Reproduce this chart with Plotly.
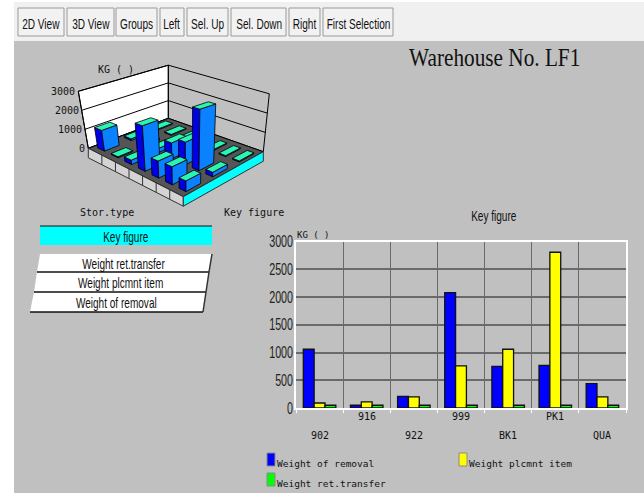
import plotly.graph_objects as go

# ---------- data ----------
categories = ["902", "916", "922", "999", "BK1", "PK1", "QUA"]
weight_removal = [1060, 50, 210, 2080, 750, 770, 440]
weight_plcmnt = [90, 110, 200, 760, 1060, 2810, 200]
weight_transfer = [50, 50, 50, 50, 50, 50, 50]
series_names = ["Weight of removal", "Weight plcmnt item", "Weight ret.transfer"]
y_ticks = [0, 500, 1000, 1500, 2000, 2500, 3000]
ticks_3d = [0, 1000, 2000, 3000]
buttons = ["2D View", "3D View", "Groups", "Left", "Sel. Up", "Sel. Down", "Right", "First Selection"]

# ---------- style / layout constants ----------
W, H = 644, 498
GREY = "#c0c0c0"
NARROW = "Liberation Sans Narrow, Liberation Sans"
SERIF = "Liberation Serif"
MONO = "DejaVu Sans Mono, Liberation Mono, monospace"
BAR_COLORS = ["#0000ff", "#ffff00", "#00ff00"]
BTN_X = [(18, 64), (67, 114), (116, 157), (160, 184), (187, 228), (231, 286), (289, 320), (323, 393)]
# 3D box projection: floor corners in page pixels
C_L, C_F, C_B, C_R = (88.3, 148.3), (183.3, 196.7), (168.3, 118.3), (263.3, 151.7)
K_SCALE = dict(L=19.0, F=25.0, B=17.7, R=19.3)    # pixels per 1000 units
LEAN = dict(L=-10.0, F=0.0, B=0.0, R=6.0)         # sideways drift per 3000 units


def blend(u, v, a, b, c, d):
    return (1 - u) * (1 - v) * a + u * (1 - v) * b + (1 - u) * v * c + u * v * d


def project(u, v, h=0.0):
    x = blend(u, v, C_L[0], C_F[0], C_B[0], C_R[0])
    y = blend(u, v, C_L[1], C_F[1], C_B[1], C_R[1])
    k = blend(u, v, K_SCALE["L"], K_SCALE["F"], K_SCALE["B"], K_SCALE["R"])
    lean = blend(u, v, LEAN["L"], LEAN["F"], LEAN["B"], LEAN["R"])
    return x + lean * h / 3000.0, y - k * h / 1000.0


fig = go.Figure()


def poly(points, fill, line="#000000", width=1, close=True):
    xs = [p[0] for p in points]
    ys = [p[1] for p in points]
    if close:
        xs.append(xs[0])
        ys.append(ys[0])
    fig.add_trace(go.Scatter(
        x=xs, y=ys, xaxis="x", yaxis="y", mode="lines", hoverinfo="skip", showlegend=False,
        fill="toself" if fill else None, fillcolor=fill,
        line=dict(color=line, width=width)))


# ---------- 3D chart ----------
top3 = max(ticks_3d)
poly([project(0, 0), project(0, 1), project(0, 1, top3), project(0, 0, top3)], "#ffffff")
for t in ticks_3d:
    poly([project(0, 0, t), project(0, 1, t), project(1, 1, t)], None, close=False)
for uv in [(0, 0), (0, 1), (1, 1)]:
    poly([project(*uv), project(*uv, top3)], None, close=False)
poly([project(0, 0), project(1, 0), project(1, 1), project(0, 1)], "#555555")
BAND = 9.5
poly([project(0, 0), project(1, 0), (project(1, 0)[0], project(1, 0)[1] + BAND),
      (project(0, 0)[0], project(0, 0)[1] + BAND)], "#d4d4d4", "#333333")
poly([project(1, 0), project(1, 1), (project(1, 1)[0], project(1, 1)[1] + BAND),
      (project(1, 0)[0], project(1, 0)[1] + BAND)], "#00ffff", "#333333")
n = len(categories)
for i in range(1, n):
    p = project(i / n, 0)
    poly([p, (p[0], p[1] + BAND)], None, "#333333", close=False)

rows = [weight_removal, weight_plcmnt, weight_transfer]
DU, DV = 0.25, 0.275
for r in reversed(range(3)):
    for i in range(n):
        value = rows[r][i]
        uc, vc = (i + 0.5) / n, (r + 0.5) / 3
        u0, u1 = uc - DU / n, uc + DU / n
        v0, v1 = vc - DV / 3, vc + DV / 3
        poly([project(u0, v0), project(u1, v0), project(u1, v0, value), project(u0, v0, value)], "#0000e6", "#000000", 0.8)
        poly([project(u1, v0), project(u1, v1), project(u1, v1, value), project(u1, v0, value)], "#0a82ff", "#000000", 0.8)
        poly([project(u0, v0, value), project(u1, v0, value), project(u1, v1, value), project(u0, v1, value)], "#2bf5b5", "#000000", 0.8)

# ---------- 2D bars ----------
for name, vals, col in zip(series_names, rows, BAR_COLORS):
    fig.add_trace(go.Bar(x=categories, y=vals, name=name, xaxis="x2", yaxis="y2",
                         marker=dict(color=col, line=dict(color="#111111", width=1.3))))

# ---------- chrome as shapes ----------
shapes = []


def rect(x0, y0, x1, y1, fill, line=None, lw=1):
    shapes.append(dict(type="rect", xref="x", yref="y", x0=x0, y0=y0, x1=x1, y1=y1, fillcolor=fill,
                       line=dict(color=line or fill, width=lw if line else 0), layer="below"))


rect(14, 2, W, 41, "#f0f0f0")
rect(14, 41, W, 493, GREY)
for bx0, bx1 in BTN_X:
    rect(bx0, 8, bx1, 36, "#f2f2f2", "#9a9a9a", 1)

rect(40, 226, 212, 245, "#00ffff")
shapes.append(dict(type="line", xref="x", yref="y", x0=40, x1=212, y0=226, y1=226, line=dict(color="#111111", width=1)))
panel_y = [254, 272, 292, 312]
panel_l = [40, 37, 34, 30]
panel_r = [212, 209, 206, 203]
for i in range(3):
    shapes.append(dict(type="path", xref="x", yref="y", layer="below", fillcolor="#ffffff", line=dict(width=0),
                       path=f"M{panel_l[i]},{panel_y[i]} L{panel_r[i]},{panel_y[i]} L{panel_r[i+1]},{panel_y[i+1]} L{panel_l[i+1]},{panel_y[i+1]} Z"))
    shapes.append(dict(type="line", xref="x", yref="y", x0=panel_l[i+1], x1=panel_r[i+1], y0=panel_y[i+1], y1=panel_y[i+1],
                       line=dict(color="#111111", width=1.5)))
    shapes.append(dict(type="line", xref="x", yref="y", x0=panel_r[i], x1=panel_r[i+1], y0=panel_y[i], y1=panel_y[i+1],
                       line=dict(color="#333333", width=1.5)))

legend_pos = [(267, 453, 275), (459, 453, 467), (267, 473, 275)]
for (lx, ly, _), col in zip(legend_pos, BAR_COLORS):
    rect(lx, ly, lx + 8, ly + 13, col, "#8a8a8a", 1)

# ---------- text ----------
ann = []


def text(x, y, s, size, family, anchor="center", color="#111111", xref="x"):
    ann.append(dict(x=x, y=y, xref=xref, yref="y", text=s, showarrow=False, xanchor=anchor, yanchor="middle",
                    font=dict(size=size, family=family, color=color)))


for label, (bx0, bx1) in zip(buttons, BTN_X):
    text((bx0 + bx1) / 2, 23, label, 15, NARROW)
text(494, 57, "Warehouse No. LF1", 25, SERIF)
text(494, 215, "Key figure", 15, NARROW)
text(295, 235, "KG ( )", 9, MONO, "left")
text(116, 69, "KG ( )", 10, MONO)
text(107, 212, "Stor.type", 10, MONO)
text(254, 212, "Key figure", 10, MONO)
for t in ticks_3d:
    px = project(0, 0, t)
    text(px[0] - 1, px[1], str(t), 10, MONO, "right")
text(126, 236, "Key figure", 15, NARROW)
panel_cx = [123, 120, 116]
for i, name in enumerate(reversed(series_names)):
    text(panel_cx[i], (panel_y[i] + panel_y[i + 1]) / 2, name, 15, NARROW)
for i, c in enumerate(categories):
    text(i, 416 if i % 2 else 435, c, 10, MONO, xref="x2")
for (lx, ly, tx), name in zip(legend_pos, series_names):
    text(tx, ly + 10, name, 9.5, MONO, "left")

fig.update_layout(
    width=W, height=H, margin=dict(l=0, r=0, t=0, b=0, pad=0, autoexpand=False), autosize=False,
    paper_bgcolor="#ffffff", plot_bgcolor="rgba(0,0,0,0)",
    showlegend=False, barmode="group", bargap=0.31, bargroupgap=0,
    shapes=shapes, annotations=ann,
    xaxis=dict(domain=[0, 1], range=[0, W], visible=False, fixedrange=True),
    yaxis=dict(domain=[0, 1], range=[H, 0], visible=False, fixedrange=True),
    xaxis2=dict(domain=[296 / W, 626 / W], anchor="y2", type="category", tickson="boundaries",
                categoryorder="array", categoryarray=categories, showticklabels=False,
                range=[-0.5, len(categories) - 0.5],
                showgrid=True, gridcolor="#6a6a6a", gridwidth=1.3, ticks="outside", ticklen=3, tickcolor="#ffffff",
                showline=True, linecolor="#ffffff", linewidth=1.5, mirror=True),
    yaxis2=dict(domain=[1 - 408 / H, 1 - 241.7 / H], anchor="x2", range=[0, 3000], tickvals=y_ticks,
                showgrid=True, gridcolor="#6a6a6a", gridwidth=1.5, ticks="", zeroline=False,
                showline=True, linecolor="#ffffff", linewidth=1.5, mirror=True, ticklabelstandoff=-2,
                tickfont=dict(family=NARROW, size=16, color="#222222")),
)

# The reference's proportional labels are condensed; no condensed face is installed,
# so the same real text is narrowed glyph-wise after drawing.
SQUEEZE_JS = """
document.body.style.margin='0';document.body.style.overflow='hidden';
document.querySelectorAll('svg text').forEach(function(t){
  var f=t.style.fontFamily||''; var r=0;
  if(f.indexOf('Narrow')>=0) r=0.67; else if(f.indexOf('Serif')>=0) r=0.85;
  if(r){t.setAttribute('lengthAdjust','spacingAndGlyphs');
        t.setAttribute('textLength',t.getComputedTextLength()*r);}
});
"""
fig.write_html("out.html", post_script=SQUEEZE_JS, config={"displayModeBar": False})
